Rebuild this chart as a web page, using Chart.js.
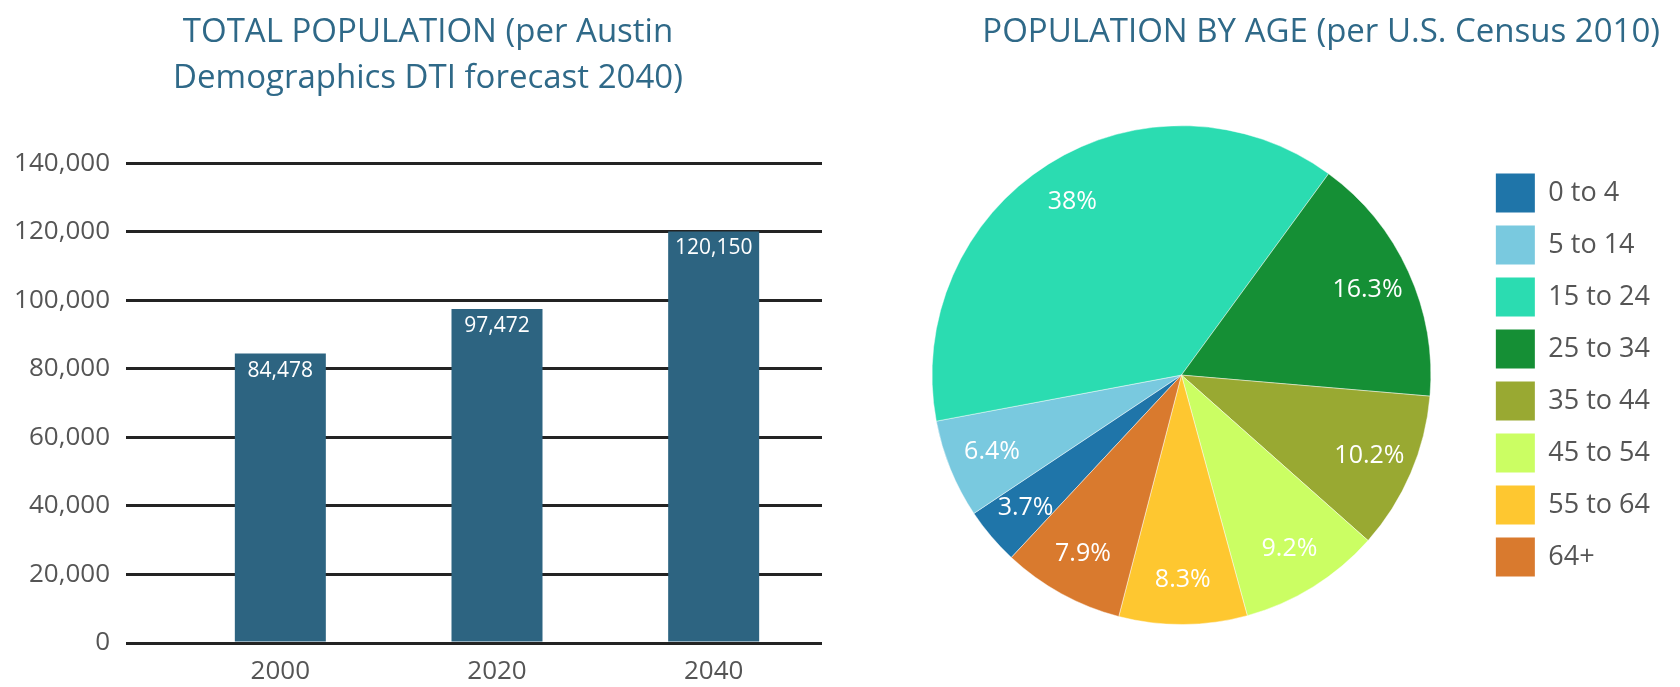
<!DOCTYPE html>
<html>
<head>
<meta charset="utf-8">
<script src="https://cdn.jsdelivr.net/npm/chart.js@4/dist/chart.umd.min.js"></script>
<style>
  html, body { margin: 0; padding: 0; background: #fff; }
  body { width: 1680px; height: 687px; position: relative; overflow: hidden; }
  #popChart { position: absolute; left: 0; top: 0; }
  #ageChart { position: absolute; left: 880px; top: 0; }
</style>
</head>
<body>
<canvas id="popChart" width="860" height="687"></canvas>
<canvas id="ageChart" width="800" height="687"></canvas>
<script>
// total population (left chart)
const years = ['2000', '2020', '2040'];
const population = [84478, 97472, 120150];
const popMax = 140000;
const popStep = 20000;

// population by age (right chart)
const ageGroups = ['0 to 4', '5 to 14', '15 to 24', '25 to 34', '35 to 44', '45 to 54', '55 to 64', '64+'];
const agePercents = [3.7, 6.4, 38, 16.3, 10.2, 9.2, 8.3, 7.9];

const FONT = "'Open Sans', sans-serif";
const titleColor = '#2f6988';
const barColor = '#2d6481';
const tickColor = '#555555';
const ageColors = ['#1f75a9', '#79c9df', '#2bdcb1', '#158f35', '#99a932', '#cbfe63', '#fec730', '#d97a2e'];

Chart.defaults.font.family = FONT;

function fmt(n) {
    return Number(n).toLocaleString('en-US');
}

// white value text near the top of every bar
const barValueLabels = {
    id: 'barValueLabels',
    afterDatasetsDraw(chart) {
        const ctx = chart.ctx;
        const meta = chart.getDatasetMeta(0);
        ctx.save();
        ctx.fillStyle = '#ffffff';
        ctx.font = '21px ' + FONT;
        ctx.textAlign = 'center';
        ctx.textBaseline = 'middle';
        meta.data.forEach(function (bar, i) {
            ctx.fillText(fmt(chart.data.datasets[0].data[i]), bar.x, bar.y + 17);
        });
        ctx.restore();
    }
};

// percentage text inside every slice
const sliceLabels = {
    id: 'sliceLabels',
    afterDatasetsDraw(chart) {
        const ctx = chart.ctx;
        const meta = chart.getDatasetMeta(0);
        ctx.save();
        ctx.fillStyle = '#ffffff';
        ctx.font = '25px ' + FONT;
        ctx.textAlign = 'center';
        ctx.textBaseline = 'middle';
        meta.data.forEach(function (arc, i) {
            const mid = (arc.startAngle + arc.endAngle) / 2;
            const r = arc.outerRadius * 0.82;
            ctx.fillText(chart.data.datasets[0].data[i] + '%', arc.x + Math.cos(mid) * r, arc.y + Math.sin(mid) * r);
        });
        ctx.restore();
    }
};

// keep the right-hand legend level with the pie, not with the title
const legendBesidePie = {
    id: 'legendBesidePie',
    afterLayout(chart) {
        const lg = chart.legend;
        if (!lg) return;
        lg.top = chart.chartArea.top;
        lg.bottom = chart.chartArea.bottom;
        lg.height = lg.bottom - lg.top;
    }
};

new Chart(document.getElementById('popChart'), {
    type: 'bar',
    data: {
        labels: years,
        datasets: [{
            label: 'Total population',
            data: population,
            backgroundColor: barColor,
            barPercentage: 0.42,
            categoryPercentage: 1
        }]
    },
    options: {
        responsive: false,
        animation: false,
        layout: { padding: { left: 0, right: 4, top: 0, bottom: 1 } },
        plugins: {
            legend: { display: false },
            tooltip: { enabled: false },
            title: {
                display: true,
                text: ['TOTAL POPULATION (per Austin', 'Demographics DTI forecast 2040)'],
                color: titleColor,
                font: { size: 33, weight: 'normal', lineHeight: 1.4 },
                padding: { top: 9, bottom: 62 }
            }
        },
        scales: {
            x: {
                afterFit: function (scale) { scale.height = 43; },
                grid: { display: false, drawTicks: false },
                border: { display: false },
                ticks: { color: tickColor, font: { size: 26 }, padding: 13 }
            },
            y: {
                min: 0,
                max: popMax,
                afterFit: function (scale) { scale.width = 172; },
                grid: { color: '#232323', lineWidth: 3, tickLength: 46, tickColor: '#232323' },
                border: { display: false },
                ticks: {
                    stepSize: popStep,
                    color: tickColor,
                    font: { size: 26 },
                    padding: 16,
                    callback: function (v) { return fmt(v); }
                }
            },
            // empty spacer on the right so the title sits centred over the whole block
            spacer: {
                type: 'linear',
                position: 'right',
                afterFit: function (scale) { scale.width = 34; },
                grid: { display: false },
                border: { display: false },
                ticks: { display: false }
            }
        }
    },
    plugins: [barValueLabels]
});

new Chart(document.getElementById('ageChart'), {
    type: 'pie',
    data: {
        labels: ageGroups,
        datasets: [{
            data: agePercents,
            backgroundColor: ageColors,
            borderColor: 'rgba(255,255,255,0.45)',
            borderWidth: 1
        }]
    },
    options: {
        responsive: false,
        animation: false,
        rotation: 223,
        layout: { padding: { left: 0, right: 20, top: 0, bottom: 62 } },
        plugins: {
            tooltip: { enabled: false },
            title: {
                display: true,
                text: 'POPULATION BY AGE (per U.S. Census 2010)',
                align: 'end',
                color: titleColor,
                font: { size: 33, weight: 'normal', lineHeight: 1.4 },
                padding: { top: 9, bottom: 70 }
            },
            legend: {
                position: 'right',
                labels: {
                    boxWidth: 39,
                    boxHeight: 39,
                    padding: 13,
                    color: tickColor,
                    font: { size: 27 },
                    generateLabels: function (chart) {
                        const items = Chart.overrides.pie.plugins.legend.labels.generateLabels(chart);
                        items.forEach(function (it) { it.lineWidth = 0; });
                        return items;
                    }
                }
            }
        }
    },
    plugins: [sliceLabels, legendBesidePie]
});
</script>
</body>
</html>
